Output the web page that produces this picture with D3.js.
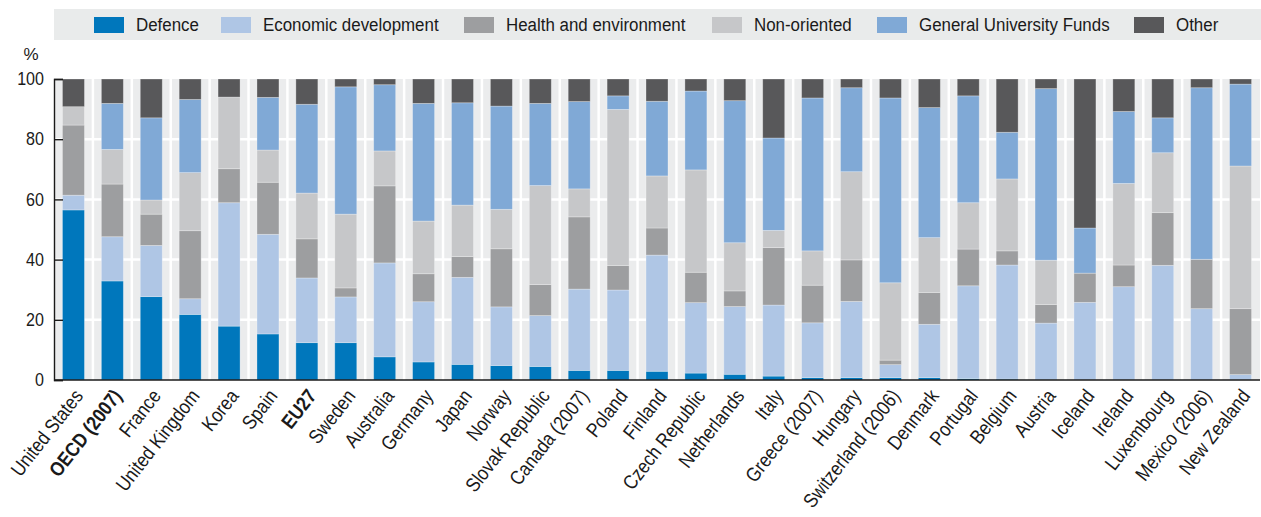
<!DOCTYPE html>
<html>
<head>
<meta charset="utf-8">
<script src="https://cdn.jsdelivr.net/npm/d3@7"></script>
<style>
  body { margin: 0; background: #fff; }
  svg { display: block; font-family: "Liberation Sans", Arial, sans-serif; }
</style>
</head>
<body>
<svg id="chart" width="1261" height="517"></svg>
<script>
const countries = ['United States', 'OECD (2007)', 'France', 'United Kingdom', 'Korea', 'Spain', 'EU27',
  'Sweden', 'Australia', 'Germany', 'Japan', 'Norway', 'Slovak Republic', 'Canada (2007)', 'Poland',
  'Finland', 'Czech Republic', 'Netherlands', 'Italy', 'Greece (2007)', 'Hungary', 'Switzerland (2006)',
  'Denmark', 'Portugal', 'Belgium', 'Austria', 'Iceland', 'Ireland', 'Luxembourg', 'Mexico (2006)', 'New Zealand'];
const boldCountries = ['OECD (2007)', 'EU27'];

const seriesNames = ['Defence', 'Economic development', 'Health and environment', 'Non-oriented', 'General University Funds', 'Other'];
const seriesColors = ['#0077bc', '#afc6e5', '#9d9ea0', '#c6c7c9', '#80a9d6', '#58585a'];

const defence = [56.5, 32.9, 27.7, 21.8, 17.9, 15.3, 12.4, 12.4, 7.7, 6.0, 5.2, 4.8, 4.5, 3.2, 3.2,
  2.9, 2.3, 1.9, 1.3, 0.8, 0.8, 0.8, 0.8, 0.5, 0.3, 0.2, 0, 0, 0, 0, 0];
const economic = [4.9, 14.7, 17.0, 5.2, 41.0, 33.1, 21.5, 15.2, 31.2, 20.0, 28.9, 19.5, 16.9, 27.0, 26.7,
  38.6, 23.4, 22.5, 23.6, 18.2, 25.3, 4.3, 17.7, 30.8, 37.9, 18.7, 25.8, 31.0, 38.1, 23.7, 1.8];
const health = [23.3, 17.5, 10.4, 22.6, 11.3, 17.3, 13.0, 3.0, 25.6, 9.3, 6.9, 19.3, 10.3, 24.0, 8.1,
  9.0, 10.1, 5.2, 19.1, 12.5, 13.8, 1.5, 10.6, 12.2, 4.7, 6.2, 9.7, 7.2, 17.5, 16.4, 21.9];
const nonOriented = [6.1, 11.5, 4.7, 19.3, 23.8, 10.7, 15.2, 24.5, 11.6, 17.5, 17.1, 13.1, 32.9, 9.3, 51.9,
  17.3, 34.0, 16.0, 5.7, 11.4, 29.3, 25.7, 18.2, 15.4, 23.9, 14.7, 0, 27.1, 19.9, 0, 47.4];
const universityFunds = [0, 15.3, 27.3, 24.3, 0, 17.5, 29.5, 42.3, 22.0, 39.1, 34.0, 34.3, 27.3, 29.0, 4.5,
  24.8, 26.2, 47.2, 30.7, 50.8, 27.9, 61.4, 43.2, 35.5, 15.5, 57.0, 15.0, 23.9, 11.6, 57.0, 27.2];
const other = [9.2, 8.1, 12.9, 6.8, 6.0, 6.1, 8.4, 2.6, 1.9, 8.1, 7.9, 9.0, 8.1, 7.5, 5.6,
  7.4, 4.0, 7.2, 19.6, 6.3, 2.9, 6.3, 9.5, 5.6, 17.7, 3.2, 49.5, 10.8, 12.9, 2.9, 1.7];

const yTicks = [0, 20, 40, 60, 80, 100];

const margin = { top: 79, right: 1, bottom: 137, left: 54 };
const width = 1261 - margin.left - margin.right;
const height = 517 - margin.top - margin.bottom;
const textColor = '#1a1a1a';

const rows = countries.map((c, i) => ({
  country: c,
  'Defence': defence[i],
  'Economic development': economic[i],
  'Health and environment': health[i],
  'Non-oriented': nonOriented[i],
  'General University Funds': universityFunds[i],
  'Other': other[i],
}));

const stacked = d3.stack().keys(seriesNames)(rows);

const svg = d3.select('#chart');

// legend
const legend = svg.append('g').attr('class', 'legend');
legend.append('rect')
  .attr('x', 54).attr('y', 9)
  .attr('width', 1261 - 54).attr('height', 31)
  .attr('fill', '#e9ebeb');
const legendX = [94, 221, 464, 712, 877, 1134];
seriesNames.forEach((name, i) => {
  legend.append('rect')
    .attr('x', legendX[i]).attr('y', 17)
    .attr('width', 30).attr('height', 16)
    .attr('fill', seriesColors[i]);
  legend.append('text')
    .attr('transform', 'translate(' + (legendX[i] + 42) + ',31) scale(0.89,1)')
    .attr('font-size', 19)
    .attr('fill', textColor)
    .text(name);
});

const g = svg.append('g')
  .attr('transform', 'translate(' + margin.left + ',' + margin.top + ')');

const x = d3.scaleBand()
  .domain(countries)
  .range([0, width])
  .paddingInner(0.435)
  .paddingOuter(0.2175);

const y = d3.scaleLinear()
  .domain([0, 100])
  .range([height, 0]);

const color = d3.scaleOrdinal().domain(seriesNames).range(seriesColors);

// plot background with white separators and gridlines
g.append('rect')
  .attr('width', width).attr('height', height)
  .attr('fill', '#ebeced');

const step = x.step();
g.append('g')
  .selectAll('line')
  .data(countries.slice(1))
  .enter()
  .append('line')
  .attr('x1', d => x(d) - (step - x.bandwidth()) / 2)
  .attr('x2', d => x(d) - (step - x.bandwidth()) / 2)
  .attr('y1', 0).attr('y2', height)
  .attr('stroke', '#fff').attr('stroke-width', 2.5);

g.append('g')
  .selectAll('line')
  .data(yTicks.slice(1, -1))
  .enter()
  .append('line')
  .attr('x1', 0).attr('x2', width)
  .attr('y1', d => y(d)).attr('y2', d => y(d))
  .attr('stroke', '#fff').attr('stroke-width', 2.5);

// bars
g.append('g')
  .selectAll('g')
  .data(stacked)
  .enter()
  .append('g')
  .attr('fill', d => color(d.key))
  .selectAll('rect')
  .data(d => d)
  .enter()
  .append('rect')
  .attr('x', d => x(d.data.country))
  .attr('y', d => y(d[1]))
  .attr('width', x.bandwidth())
  .attr('height', d => y(d[0]) - y(d[1]))
  .attr('stroke', 'rgba(255,255,255,0.35)')
  .attr('stroke-width', 0.8);

// axes
const yAxis = g.append('g')
  .attr('class', 'axis y-axis')
  .attr('font-family', null)
  .call(d3.axisLeft(y).tickValues(yTicks).tickSizeInner(-9).tickSizeOuter(-9).tickPadding(10));
yAxis.attr('font-family', null).attr('font-size', null);
yAxis.selectAll('text')
  .attr('font-size', 17.5)
  .attr('fill', textColor)
  .attr('transform', d => 'translate(-10,' + y(d) + ') scale(0.92,1) translate(10,' + (-y(d)) + ')');
yAxis.selectAll('line, path').attr('stroke', textColor).attr('stroke-width', 1.4);
yAxis.select('.domain').attr('fill', 'none');

g.append('line')
  .attr('x1', 0).attr('x2', width)
  .attr('y1', height).attr('y2', height)
  .attr('stroke', textColor).attr('stroke-width', 1.6);

svg.append('text')
  .attr('x', 31).attr('y', 60)
  .attr('text-anchor', 'middle')
  .attr('font-size', 17)
  .attr('fill', textColor)
  .text('%');

// country labels
g.append('g')
  .selectAll('text')
  .data(countries)
  .enter()
  .append('text')
  .attr('transform', d => 'translate(' + (x(d) + x.bandwidth() / 2 + 5) + ',' + (height + 12) + ') rotate(-52) scale(0.86,1)')
  .attr('text-anchor', 'end')
  .attr('dy', '0.35em')
  .attr('font-size', 20)
  .attr('font-weight', d => boldCountries.includes(d) ? 'bold' : null)
  .attr('fill', textColor)
  .text(d => d);
</script>
</body>
</html>
